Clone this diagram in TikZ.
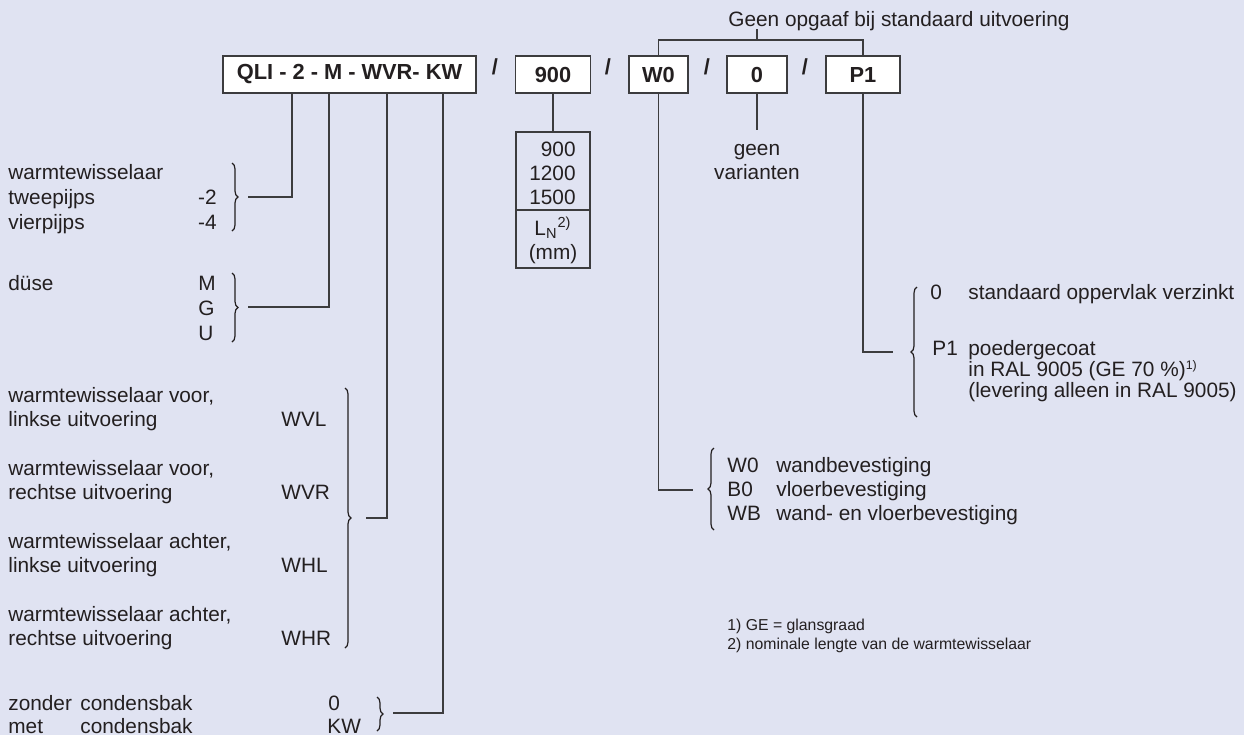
\documentclass[tikz,border=0pt]{standalone}
\usepackage{fontspec}
\setmainfont{Liberation Sans}
\usetikzlibrary{decorations.pathreplacing,positioning}

\definecolor{bgblue}{RGB}{224,227,242}
\definecolor{inkgray}{RGB}{35,31,32}
\definecolor{linegray}{RGB}{60,60,62}

\begin{document}
\begin{tikzpicture}[x=0.5pt, y=-0.5pt,
    every node/.style={inner sep=0pt, text=inkgray, font=\fontsize{10.4}{12.5}\selectfont},
    codebox/.style={draw=linegray, line width=0.7pt, fill=white, minimum height=18.5pt,
        font=\fontsize{10.9}{12.5}\selectfont\bfseries},
    slash/.style={font=\fontsize{10.9}{12.5}\selectfont\bfseries},
    lead/.style={draw=linegray, line width=0.65pt},
    curly/.style={draw=inkgray, line width=0.6pt, decorate, decoration={brace, amplitude=3pt}},
    note/.style={font=\fontsize{7.9}{9.5}\selectfont}]

    % Background
    \path[use as bounding box, fill=bgblue] (0,0) rectangle (1244,735);

    % Type code
    \node[codebox, minimum width=126.5pt] (qli) at (349.5,74.5) {QLI - 2 - M - WVR- KW};
    \node[slash] (sl1) at (495,67) {/};
    \node[codebox, minimum width=37.5pt] (len) at (553,74.5) {900};
    \node[slash] (sl2) at (608,67) {/};
    \node[codebox, minimum width=29.5pt] (mount) at (658.5,74.5) {W0};
    \node[slash] (sl3) at (707,67) {/};
    \node[codebox, minimum width=30pt] (var) at (757,74.5) {0};
    \node[slash] (sl4) at (805,67) {/};
    \node[codebox, minimum width=37pt] (coat) at (863,74.5) {P1};

    % Standard version bracket
    \node[anchor=base west] (std) at (728,26) {Geen opgaaf bij standaard uitvoering};
    \coordinate (bar) at (757,40);
    \coordinate (bartop) at (757,29);
    \draw[lead] (mount.north) |- (bar) -| (coat.north);
    \draw[lead] (bar) -- (bartop);

    % Heat exchanger pipes
    \node[anchor=base west] (hx) at (8,179) {warmtewisselaar};
    \node[anchor=base west] (two) at (8,204) {tweepijps};
    \node[anchor=base west] (four) at (8,229) {vierpijps};
    \node[anchor=base east] (two-c) at (217,204) {-2};
    \node[anchor=base east] (four-c) at (217,229) {-4};
    \draw[curly] (232,163) -- (232,231);
    \coordinate (brc1) at (248,197);
    \coordinate (qli-2) at (292,93);
    \draw[lead] (brc1) -| (qli-2);

    % Nozzle
    \node[anchor=base west] (duse) at (8,290) {düse};
    \node[anchor=base west] (duse-m) at (198,290) {M};
    \node[anchor=base west] (duse-g) at (198,315) {G};
    \node[anchor=base west] (duse-u) at (198,340) {U};
    \draw[curly] (232,273) -- (232,342);
    \coordinate (brc2) at (248,307);
    \coordinate (qli-m) at (329,93);
    \draw[lead] (brc2) -| (qli-m);

    % Exchanger position
    \node[anchor=base west] (wvl1) at (8,402) {warmtewisselaar voor,};
    \node[anchor=base west] (wvl2) at (8,426) {linkse uitvoering};
    \node[anchor=base west] (wvl) at (281,426) {WVL};
    \node[anchor=base west] (wvr1) at (8,475) {warmtewisselaar voor,};
    \node[anchor=base west] (wvr2) at (8,499) {rechtse uitvoering};
    \node[anchor=base west] (wvr) at (281,499) {WVR};
    \node[anchor=base west] (whl1) at (8,548) {warmtewisselaar achter,};
    \node[anchor=base west] (whl2) at (8,572) {linkse uitvoering};
    \node[anchor=base west] (whl) at (281,572) {WHL};
    \node[anchor=base west] (whr1) at (8,621) {warmtewisselaar achter,};
    \node[anchor=base west] (whr2) at (8,645) {rechtse uitvoering};
    \node[anchor=base west] (whr) at (281,645) {WHR};
    \draw[curly] (345,388) -- (345,648);
    \coordinate (brc3) at (366,518);
    \coordinate (qli-w) at (387,93);
    \draw[lead] (brc3) -| (qli-w);

    % Condensate tray
    \node[anchor=base west] (zonder) at (8,710) {zonder};
    \node[anchor=base west] (met) at (8,733) {met};
    \node[anchor=base west] (bak1) at (80,710) {condensbak};
    \node[anchor=base west] (bak2) at (80,733) {condensbak};
    \node[anchor=base west] (kw0) at (328,710) {0};
    \node[anchor=base west] (kw) at (327,733) {KW};
    \draw[curly] (377,697) -- (377,731);
    \coordinate (brc4) at (393,713);
    \coordinate (qli-k) at (443,93);
    \draw[lead] (brc4) -| (qli-k);

    % Nominal length
    \node[draw=linegray, line width=0.7pt, minimum width=37pt, minimum height=68pt] (lenlist) at (553,200) {};
    \coordinate (lendiv) at (553,210);
    \draw[lead] (len.south) -- (lenlist.north);
    \draw[lead] (lenlist.west |- lendiv) -- (lenlist.east |- lendiv);
    \node[anchor=base east] (l900) at (576,156) {900};
    \node[anchor=base east] (l1200) at (576,180) {1200};
    \node[anchor=base east] (l1500) at (576,204) {1500};
    \node[anchor=base] (ln) at (553,235) {L\textsubscript{N}\textsuperscript{2)}};
    \node[anchor=base] (mm) at (553,259) {(mm)};

    % Variants
    \coordinate (varend) at (757,130);
    \draw[lead] (var.south) -- (varend);
    \node[anchor=base] (geen) at (757,155) {geen};
    \node[anchor=base] (vari) at (757,179) {varianten};

    % Mounting
    \coordinate (brc5) at (693,490);
    \draw[lead] (mount.south) |- (brc5);
    \draw[curly] (714,530) -- (714,448);
    \node[anchor=base west] (w0) at (727,472) {W0};
    \node[anchor=base west] (b0) at (727,496) {B0};
    \node[anchor=base west] (wb) at (727,520) {WB};
    \node[anchor=base west] (w0t) at (776,472) {wandbevestiging};
    \node[anchor=base west] (b0t) at (776,496) {vloerbevestiging};
    \node[anchor=base west] (wbt) at (776,520) {wand- en vloerbevestiging};

    % Coating
    \coordinate (brc6) at (893,352);
    \draw[lead] (coat.south) |- (brc6);
    \draw[curly] (917,417) -- (917,287);
    \node[anchor=base west] (c0) at (930,299) {0};
    \node[anchor=base west] (c0t) at (968,299) {standaard oppervlak verzinkt};
    \node[anchor=base west] (p1) at (932,355) {P1};
    \node[anchor=base west] (p1a) at (968,355) {poedergecoat};
    \node[anchor=base west] (p1b) at (968,376) {in RAL 9005 (GE 70 \%)\raisebox{0.55ex}{\fontsize{6.2}{7}\selectfont 1)}};
    \node[anchor=base west] (p1c) at (968,397) {(levering alleen in RAL 9005)};

    % Footnotes
    \node[note, anchor=base west] (fn1) at (727,630) {1) GE = glansgraad};
    \node[note, anchor=base west] (fn2) at (727,649) {2) nominale lengte van de warmtewisselaar};

\end{tikzpicture}
\end{document}
